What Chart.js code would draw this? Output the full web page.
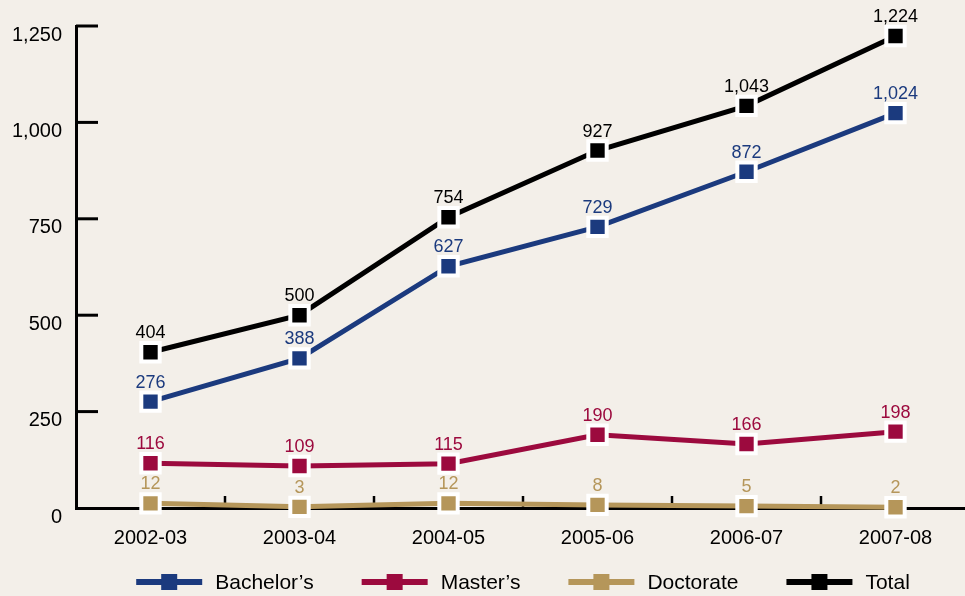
<!DOCTYPE html>
<html>
<head>
<meta charset="utf-8">
<script src="https://cdn.jsdelivr.net/npm/chart.js@4/dist/chart.umd.min.js"></script>
<style>
  html, body { margin: 0; padding: 0; background: #f3efe9; overflow: hidden; }
  #wrap { width: 970px; height: 596px; }
</style>
</head>
<body>
<div id="wrap"><canvas id="myChart" width="970" height="596"></canvas></div>
<script>
var years = ['2002-03', '2003-04', '2004-05', '2005-06', '2006-07', '2007-08'];
var seriesNames = ['Bachelor\u2019s', 'Master\u2019s', 'Doctorate', 'Total'];
var bachelors = [276, 388, 627, 729, 872, 1024];
var masters = [116, 109, 115, 190, 166, 198];
var doctorate = [12, 3, 12, 8, 5, 2];
var total = [404, 500, 754, 927, 1043, 1224];
var yTicks = [0, 250, 500, 750, 1000, 1250];

var colors = ['#1b3a7e', '#9c0a3e', '#b5965a', '#000000'];
var fontFamily = '"Liberation Sans", Arial, sans-serif';

function makeDataset(i, values) {
    return {
        label: seriesNames[i],
        data: values,
        borderColor: colors[i],
        backgroundColor: colors[i],
        borderWidth: 5,
        pointStyle: 'rect',
        pointRadius: 13,
        pointHoverRadius: 13,
        pointBorderColor: '#ffffff',
        pointBorderWidth: 4,
        pointBackgroundColor: colors[i],
        tension: 0,
        clip: false
    };
}

// ticks drawn inward from the axes, under the lines
var axisTicks = {
    id: 'axisTicks',
    beforeDatasetsDraw: function (chart) {
        var c = chart.ctx;
        var area = chart.chartArea;
        var y = chart.scales.y;
        var x = chart.scales.x;
        c.save();
        c.strokeStyle = '#000';
        c.lineWidth = 3;
        yTicks.forEach(function (v) {
            if (v === 0) return;
            var py = y.getPixelForValue(v);
            c.beginPath();
            c.moveTo(area.left, py);
            c.lineTo(area.left + 22, py);
            c.stroke();
        });
        c.lineWidth = 2.5;
        for (var i = 0; i < years.length - 1; i++) {
            var px = (x.getPixelForValue(i) + x.getPixelForValue(i + 1)) / 2;
            c.beginPath();
            c.moveTo(px, area.bottom);
            c.lineTo(px, area.bottom - 12);
            c.stroke();
        }
        c.restore();
    }
};

// value labels above each point
var valueLabels = {
    id: 'valueLabels',
    afterDatasetsDraw: function (chart) {
        var c = chart.ctx;
        c.save();
        c.font = '18px ' + fontFamily;
        c.textAlign = 'center';
        c.textBaseline = 'alphabetic';
        chart.data.datasets.forEach(function (ds, di) {
            var meta = chart.getDatasetMeta(di);
            c.fillStyle = ds.borderColor;
            meta.data.forEach(function (pt, i) {
                c.fillText(ds.data[i].toLocaleString('en-US'), pt.x, pt.y - 14);
            });
        });
        c.restore();
    }
};

// legend: line with square marker, centred on the plot area
var lineLegend = {
    id: 'lineLegend',
    afterDraw: function (chart) {
        var c = chart.ctx;
        var area = chart.chartArea;
        var sample = 66, gapText = 13, gapItem = 48;
        c.save();
        c.font = '21px ' + fontFamily;
        c.textBaseline = 'middle';
        c.textAlign = 'left';
        var widths = seriesNames.map(function (n) { return c.measureText(n).width; });
        var totalW = 0;
        widths.forEach(function (w) { totalW += sample + gapText + w; });
        totalW += gapItem * (seriesNames.length - 1);
        var x0 = (area.left + area.right) / 2 - totalW / 2;
        var cy = 582;
        seriesNames.forEach(function (n, i) {
            c.strokeStyle = colors[i];
            c.fillStyle = colors[i];
            c.lineWidth = 6;
            c.beginPath();
            c.moveTo(x0, cy);
            c.lineTo(x0 + sample, cy);
            c.stroke();
            c.fillRect(x0 + sample / 2 - 8, cy - 8, 16, 16);
            c.fillStyle = '#000';
            c.fillText(n, x0 + sample + gapText, cy + 1);
            x0 += sample + gapText + widths[i] + gapItem;
        });
        c.restore();
    }
};

var ctx = document.getElementById('myChart');

var graphData = {
    type: 'line',
    data: {
        labels: years,
        datasets: [
            makeDataset(0, bachelors),
            makeDataset(1, masters),
            makeDataset(2, doctorate),
            makeDataset(3, total)
        ]
    },
    options: {
        responsive: false,
        animation: false,
        events: [],
        layout: { autoPadding: false, padding: { top: 25, left: 0, right: 0, bottom: 0 } },
        plugins: {
            legend: { display: false },
            tooltip: { enabled: false }
        },
        scales: {
            x: {
                offset: true,
                grid: { display: false, drawTicks: false },
                border: { display: true, color: '#000', width: 3 },
                ticks: {
                    color: '#000',
                    padding: 18,
                    font: { family: fontFamily, size: 20 }
                },
                afterFit: function (scale) {
                    scale.height = 88;
                    scale.paddingLeft = 0;
                    scale.paddingRight = 0;
                }
            },
            y: {
                min: 0,
                max: 1250,
                afterBuildTicks: function (scale) {
                    scale.ticks = yTicks.map(function (v) { return { value: v }; });
                },
                grid: { display: false, drawTicks: false },
                border: { display: true, color: '#000', width: 3 },
                ticks: {
                    color: '#000',
                    padding: 14,
                    labelOffset: 9,
                    font: { family: fontFamily, size: 20 },
                    callback: function (v) { return v.toLocaleString('en-US'); }
                },
                afterFit: function (scale) { scale.width = 76; }
            }
        }
    },
    plugins: [axisTicks, valueLabels, lineLegend]
};

var myChart = new Chart(ctx, graphData);
</script>
</body>
</html>
